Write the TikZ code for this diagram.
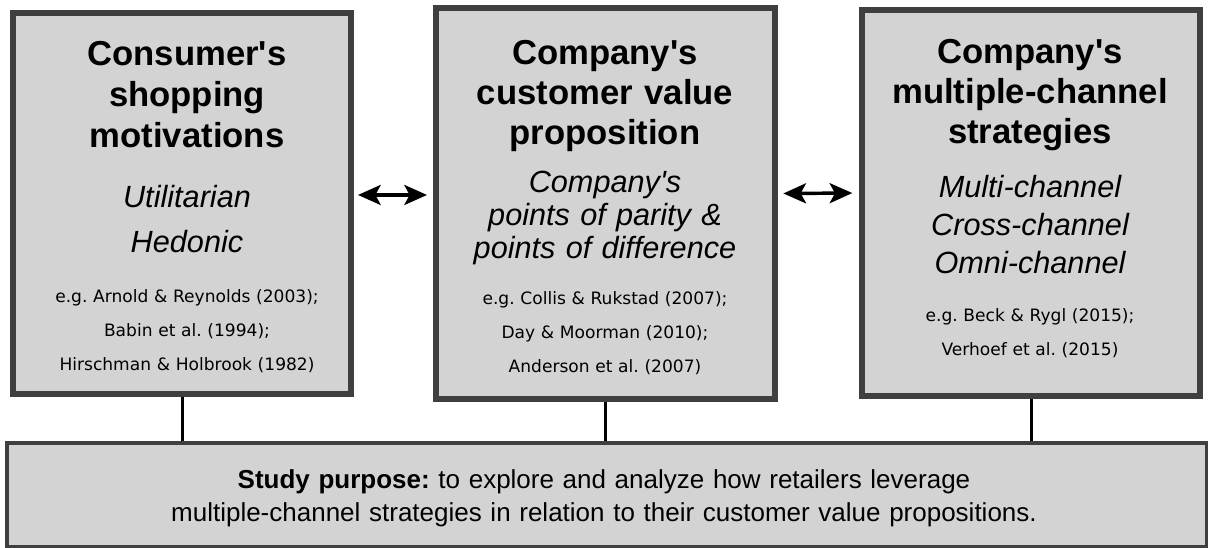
\documentclass[tikz,border=0pt]{standalone}
\usepackage{fontspec}
\setmainfont{Liberation Sans}[Ligatures=TeXOff]
\newfontfamily\reffont{DejaVu Sans}[Ligatures=TeXOff]
\usetikzlibrary{arrows.meta}
\definecolor{boxfill}{HTML}{D3D3D3}
\definecolor{boxline}{HTML}{3F3F3F}
\frenchspacing
\tikzset{
  panel/.style={draw=boxline, fill=boxfill, line width=4.5pt, inner sep=0pt},
  wide/.style={draw=boxline, fill=boxfill, line width=3pt, inner sep=0pt},
  blk/.style={text width=340pt, align=center, inner sep=0pt, anchor=base},
  ttl/.style={blk, font={\fontsize{26}{30}\selectfont\bfseries}},
  ital/.style={blk, font={\fontsize{23}{25}\selectfont\itshape}},
  refs/.style={blk, font={\reffont\fontsize{12.8}{25.5}\selectfont}},
  purp/.style={text width=880pt, align=center, inner sep=0pt, anchor=base,
               font={\fontsize{19.5}{24.75}\selectfont}},
  dbl/.style={line width=2.6pt,
    {Stealth[length=17pt,width=15pt,inset=4pt]}-{Stealth[length=17pt,width=15pt,inset=4pt]}},
  conn/.style={line width=2.25pt, black}
}
\begin{document}
\begin{tikzpicture}[x=0.75pt,y=-0.75pt]
\useasboundingbox (0,0) rectangle (1208,547);
% panels
\node[panel, minimum width=253.5pt, minimum height=285.75pt] (b1) at (182,203.5) {};
\node[panel, minimum width=254.25pt, minimum height=293.25pt] (b2) at (605.5,203.5) {};
\node[panel, minimum width=253.5pt, minimum height=289.5pt] (b3) at (1031,203) {};
\node[wide, minimum width=900pt, minimum height=78pt] (bot) at (607,495) {};
% box 1 text
\node[ttl, font={\fontsize{26}{30.75}\selectfont\bfseries}] (t1) at (187,65) {Consumer's\\shopping\\motivations};
\node[ital, font={\fontsize{23}{33.75}\selectfont\itshape}] (i1) at (187,207) {Utilitarian\\Hedonic};
\node[refs] (r1) at (187,302) {e.g. Arnold \& Reynolds (2003);\\Babin et al. (1994);\\Hirschman \& Holbrook (1982)};
% box 2 text
\node[ttl] (t2) at (605,64) {Company's\\customer value\\proposition};
\node[ital, font={\fontsize{23}{24.75}\selectfont\itshape}] (i2) at (605,192) {Company's\\points of parity \&\\points of difference};
\node[refs] (r2) at (605,304) {e.g. Collis \& Rukstad (2007);\\Day \& Moorman (2010);\\Anderson et al. (2007)};
% box 3 text
\node[ttl] (t3) at (1030,63) {Company's\\multiple-channel\\strategies};
\node[ital, font={\fontsize{23}{28.5}\selectfont\itshape}] (i3) at (1030,197) {Multi-channel\\Cross-channel\\Omni-channel};
\node[refs] (r3) at (1030,321) {e.g. Beck \& Rygl (2015);\\Verhoef et al. (2015)};
% bottom text
\node[purp] (p) at (604,488) {\textbf{Study purpose:} to explore and analyze how retailers leverage\\multiple-channel strategies in relation to their customer value propositions.};
% arrows
\draw[dbl, shorten <=3pt, shorten >=4.5pt] ([yshift=6.4pt]b1.east) -- ([yshift=6.4pt]b2.west);
\draw[dbl, shorten <=4pt, shorten >=5pt] ([yshift=7.5pt]b2.east) -- ([yshift=7.5pt]b3.west);
% connectors
\draw[conn] (b1.south) -- (b1.south |- bot.north);
\draw[conn] (b2.south) -- (b2.south |- bot.north);
\draw[conn] (b3.south) -- (b3.south |- bot.north);
\end{tikzpicture}
\end{document}
